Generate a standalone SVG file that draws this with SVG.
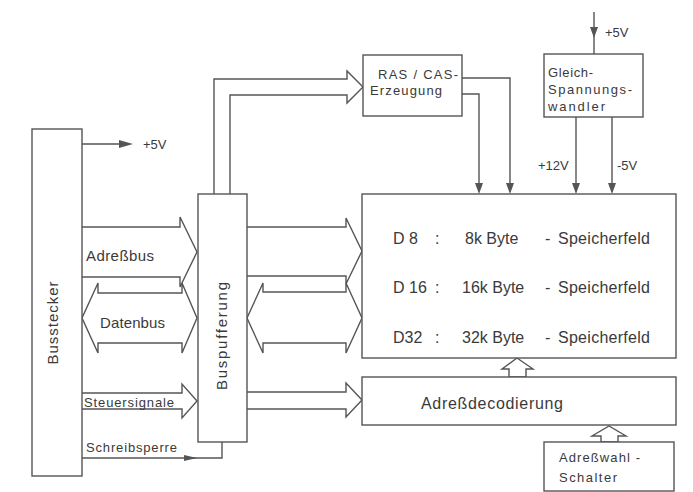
<svg xmlns="http://www.w3.org/2000/svg" width="693" height="492" viewBox="0 0 693 492">
<style>
.b{fill:#fff;stroke:#555;stroke-width:1.4}
.l{fill:none;stroke:#555;stroke-width:1.4;stroke-linejoin:miter}
.h{fill:#555;stroke:none}
text{font-family:"Liberation Sans",Arial,sans-serif;fill:#3a3a3a}
.s{font-size:13px}
.m{font-size:15px}
.g{font-size:16px}
</style>
<rect width="693" height="492" fill="#fff"/>
<g id="connectors">
<line class="l" x1="82" y1="144" x2="122" y2="144"/>
<polygon class="h" points="119,140 133,144 119,148"/>
<polyline class="l" points="82,227 180,227 180,217 197,252 180,287 180,277 82,277"/>
<polygon class="l" points="98,293 182,293 182,283 197,318 182,353 182,343 98,343 98,353 82,318 98,283"/>
<polyline class="l" points="82,393 182,393 182,384 197,401 182,418 182,409 82,409"/>
<polyline class="l" points="82,458 222,458 222,442"/>
<polygon class="h" points="184,455 197,458 184,461"/>
<polyline class="l" points="214,194 214,79 347,79 347,71 363,87 347,103 347,95 230,95 230,194"/>
<polyline class="l" points="247,227 346,227 346,218 362,251 346,284 346,276 247,276"/>
<polygon class="l" points="263,292 346,292 346,283 362,318 346,353 346,343 263,343 263,353 247,318 263,283"/>
<polyline class="l" points="247,392 346,392 346,383 362,400 346,417 346,409 247,409"/>
<polyline class="l" points="462,78 510,78 510,186"/>
<polygon class="h" points="506,183 510,194 514,183"/>
<polyline class="l" points="462,94 479,94 479,186"/>
<polygon class="h" points="475,183 479,194 483,183"/>
<line class="l" x1="594" y1="12" x2="594" y2="54"/>
<polygon class="h" points="590,27 594,38 598,27"/>
<line class="l" x1="576" y1="117" x2="576" y2="186"/>
<polygon class="h" points="572,183 576,194 580,183"/>
<line class="l" x1="612" y1="117" x2="612" y2="186"/>
<polygon class="h" points="608,183 612,194 616,183"/>
<polygon class="l" points="509,377 509,369 502,369 517,358 533,369 526,369 526,377"/>
<polygon class="l" points="601,442 601,436 592,436 609,426 626,436 618,436 618,442"/>
<text class="s" x="143" y="149">+5V</text>
<text class="s" x="605" y="37">+5V</text>
<text class="s" x="538" y="170">+12V</text>
<text class="s" x="617" y="170">-5V</text>
<text class="m" x="86" y="261" textLength="68" lengthAdjust="spacing">Adreßbus</text>
<text class="m" x="100" y="328" textLength="65" lengthAdjust="spacing">Datenbus</text>
<text class="s" x="84" y="407" textLength="90" lengthAdjust="spacing">Steuersignale</text>
<text class="s" x="86" y="452" textLength="91" lengthAdjust="spacing">Schreibsperre</text>
</g>
<g id="busstecker">
<rect class="b" x="32" y="129" width="50" height="347"/>
<text class="m" transform="translate(58,323) rotate(-90)" text-anchor="middle" textLength="83" lengthAdjust="spacing">Busstecker</text>
</g>
<g id="buspufferung">
<rect class="b" x="198" y="194" width="49" height="248"/>
<text class="m" transform="translate(227,336) rotate(-90)" text-anchor="middle" textLength="108" lengthAdjust="spacing">Buspufferung</text>
</g>
<g id="rascas">
<rect class="b" x="363" y="55" width="99" height="61"/>
<text class="s" x="378" y="79" textLength="80" lengthAdjust="spacing">RAS / CAS-</text>
<text class="s" x="370" y="95" textLength="72" lengthAdjust="spacing">Erzeugung</text>
</g>
<g id="wandler">
<rect class="b" x="544" y="54" width="99" height="63"/>
<text class="s" x="548" y="77" textLength="45" lengthAdjust="spacing">Gleich-</text>
<text class="s" x="548" y="94" textLength="84" lengthAdjust="spacing">Spannungs-</text>
<text class="s" x="548" y="111" textLength="57" lengthAdjust="spacing">wandler</text>
</g>
<g id="speicher">
<rect class="b" x="362" y="194" width="314" height="164"/>
<text class="g" x="393" y="244">D 8</text>
<text class="g" x="435" y="244">:</text>
<text class="g" x="465" y="244">8k Byte</text>
<text class="g" x="545" y="244">-</text>
<text class="g" x="558" y="244" textLength="92" lengthAdjust="spacing">Speicherfeld</text>
<text class="g" x="393" y="293">D 16</text>
<text class="g" x="435" y="293">:</text>
<text class="g" x="462" y="293">16k Byte</text>
<text class="g" x="545" y="293">-</text>
<text class="g" x="558" y="293" textLength="92" lengthAdjust="spacing">Speicherfeld</text>
<text class="g" x="393" y="343">D32</text>
<text class="g" x="435" y="343">:</text>
<text class="g" x="462" y="343">32k Byte</text>
<text class="g" x="545" y="343">-</text>
<text class="g" x="558" y="343" textLength="92" lengthAdjust="spacing">Speicherfeld</text>
</g>
<g id="decoder">
<rect class="b" x="362" y="377" width="314" height="48"/>
<text class="g" x="421" y="409" textLength="142" lengthAdjust="spacing">Adreßdecodierung</text>
</g>
<g id="schalter">
<rect class="b" x="544" y="442" width="130" height="49"/>
<text class="s" x="559" y="462" textLength="81" lengthAdjust="spacing">Adreßwahl -</text>
<text class="s" x="559" y="482" textLength="58" lengthAdjust="spacing">Schalter</text>
</g>
</svg>
